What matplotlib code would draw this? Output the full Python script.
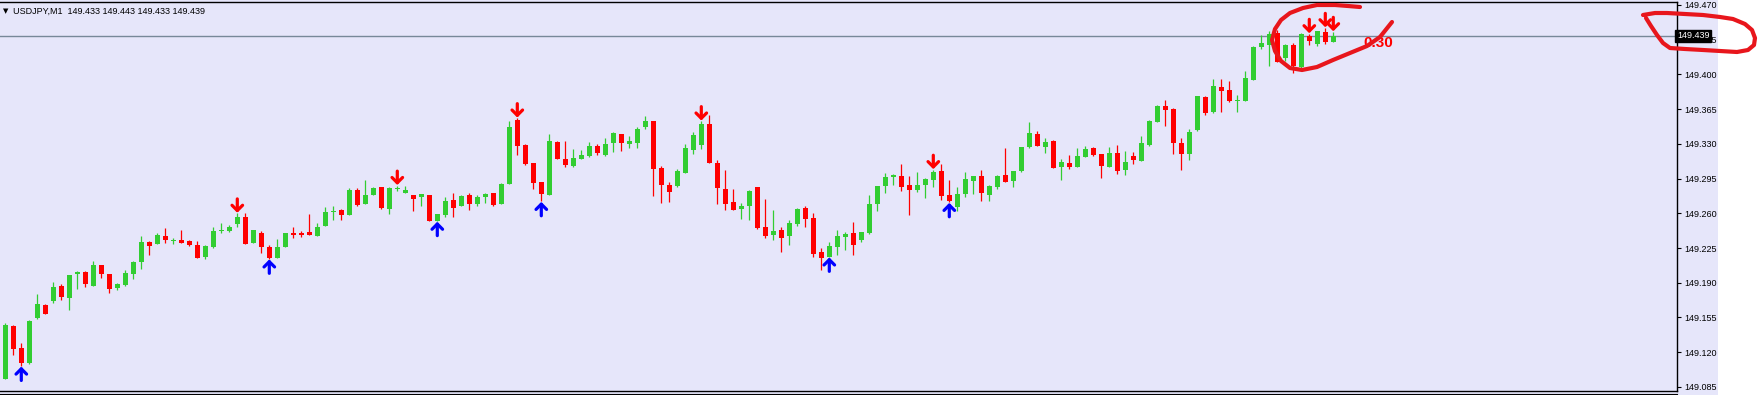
import numpy as np
import matplotlib.pyplot as plt
from matplotlib.patches import Rectangle

W, H = 1760, 395
BG = '#E6E6FA'
BULL = '#32CD32'
BEAR = '#FF0000'
INK = '#E8161C'

header = 'USDJPY,M1  149.433 149.443 149.433 149.439'
last_price = 149.439
note = '0.30'

opens = [
    149.093, 149.146, 149.124, 149.109, 149.154, 149.168, 149.172, 149.187, 149.175, 149.199,
    149.201, 149.187, 149.208, 149.199, 149.185, 149.188, 149.199, 149.211, 149.231, 149.229,
    149.237, 149.232, 149.233, 149.232, 149.228, 149.216, 149.226, 149.242, 149.242, 149.249,
    149.256, 149.230, 149.240, 149.226, 149.215, 149.226, 149.240, 149.240, 149.241, 149.237,
    149.247, 149.261, 149.263, 149.258, 149.283, 149.269, 149.278, 149.287, 149.264, 149.284,
    149.280, 149.278, 149.276, 149.278, 149.252, 149.258, 149.273, 149.267, 149.278, 149.269,
    149.276, 149.280, 149.269, 149.290, 149.354, 149.329, 149.311, 149.292, 149.278, 149.332,
    149.315, 149.308, 149.315, 149.318, 149.328, 149.319, 149.331, 149.340, 149.330, 149.331,
    149.347, 149.353, 149.306, 149.289, 149.288, 149.301, 149.324, 149.329, 149.350, 149.311,
    149.284, 149.271, 149.264, 149.267, 149.287, 149.246, 149.238, 149.243, 149.237, 149.249,
    149.265, 149.255, 149.221, 149.216, 149.226, 149.236, 149.240, 149.233, 149.240, 149.269,
    149.288, 149.297, 149.298, 149.289, 149.283, 149.289, 149.294, 149.303, 149.278, 149.266,
    149.279, 149.293, 149.298, 149.278, 149.287, 149.299, 149.293, 149.303, 149.327, 149.340,
    149.327, 149.333, 149.307, 149.311, 149.307, 149.317, 149.326, 149.320, 149.307, 149.321,
    149.304, 149.318, 149.313, 149.329, 149.352, 149.368, 149.365, 149.331, 149.320, 149.344,
    149.377, 149.362, 149.387, 149.384, 149.373, 149.373, 149.394, 149.428, 149.430, 149.442,
    149.417, 149.430, 149.407, 149.439, 149.431, 149.443, 149.433,
]
highs = [
    149.149, 149.147, 149.129, 149.152, 149.179, 149.169, 149.191, 149.189, 149.198, 149.202,
    149.202, 149.212, 149.208, 149.199, 149.190, 149.203, 149.212, 149.237, 149.232, 149.240,
    149.245, 149.235, 149.243, 149.233, 149.232, 149.228, 149.246, 149.250, 149.248, 149.260,
    149.260, 149.243, 149.242, 149.228, 149.234, 149.240, 149.246, 149.242, 149.259, 149.250,
    149.266, 149.267, 149.264, 149.285, 149.285, 149.294, 149.287, 149.287, 149.287, 149.288,
    149.288, 149.278, 149.279, 149.278, 149.259, 149.276, 149.280, 149.278, 149.280, 149.278,
    149.280, 149.280, 149.291, 149.353, 149.356, 149.330, 149.311, 149.292, 149.340, 149.333,
    149.333, 149.325, 149.324, 149.332, 149.330, 149.336, 149.342, 149.340, 149.338, 149.347,
    149.358, 149.353, 149.308, 149.292, 149.305, 149.330, 149.342, 149.353, 149.359, 149.314,
    149.304, 149.284, 149.270, 149.283, 149.287, 149.274, 149.263, 149.246, 149.253, 149.265,
    149.267, 149.260, 149.225, 149.231, 149.243, 149.241, 149.251, 149.241, 149.278, 149.288,
    149.301, 149.300, 149.310, 149.298, 149.302, 149.296, 149.304, 149.310, 149.294, 149.287,
    149.302, 149.298, 149.304, 149.289, 149.299, 149.326, 149.303, 149.327, 149.352, 149.343,
    149.336, 149.334, 149.315, 149.319, 149.326, 149.328, 149.327, 149.320, 149.327, 149.329,
    149.323, 149.322, 149.338, 149.354, 149.369, 149.374, 149.366, 149.336, 149.345, 149.378,
    149.378, 149.395, 149.395, 149.393, 149.379, 149.403, 149.429, 149.440, 149.444, 149.445,
    149.431, 149.432, 149.442, 149.441, 149.444, 149.447, 149.443,
]
lows = [
    149.093, 149.117, 149.106, 149.108, 149.153, 149.158, 149.170, 149.173, 149.163, 149.184,
    149.186, 149.187, 149.195, 149.180, 149.183, 149.187, 149.194, 149.204, 149.218, 149.229,
    149.230, 149.229, 149.230, 149.227, 149.215, 149.214, 149.225, 149.240, 149.241, 149.246,
    149.229, 149.230, 149.220, 149.214, 149.215, 149.226, 149.235, 149.236, 149.238, 149.237,
    149.247, 149.253, 149.253, 149.258, 149.267, 149.269, 149.278, 149.264, 149.259, 149.282,
    149.280, 149.262, 149.267, 149.252, 149.252, 149.256, 149.256, 149.267, 149.263, 149.267,
    149.270, 149.267, 149.269, 149.290, 149.319, 149.309, 149.284, 149.272, 149.278, 149.315,
    149.307, 149.307, 149.315, 149.317, 149.319, 149.318, 149.322, 149.323, 149.326, 149.326,
    149.345, 149.277, 149.270, 149.271, 149.287, 149.301, 149.320, 149.325, 149.311, 149.269,
    149.263, 149.263, 149.254, 149.253, 149.244, 149.235, 149.233, 149.221, 149.228, 149.247,
    149.246, 149.216, 149.203, 149.216, 149.218, 149.223, 149.218, 149.231, 149.239, 149.262,
    149.280, 149.289, 149.282, 149.258, 149.281, 149.275, 149.287, 149.273, 149.271, 149.262,
    149.276, 149.279, 149.272, 149.272, 149.284, 149.292, 149.287, 149.302, 149.326, 149.328,
    149.321, 149.306, 149.294, 149.305, 149.307, 149.317, 149.318, 149.296, 149.307, 149.300,
    149.299, 149.310, 149.313, 149.328, 149.352, 149.348, 149.320, 149.304, 149.314, 149.343,
    149.359, 149.361, 149.362, 149.372, 149.362, 149.373, 149.394, 149.426, 149.408, 149.413,
    149.414, 149.401, 149.405, 149.430, 149.429, 149.431, 149.433,
]
closes = [
    149.147, 149.123, 149.109, 149.151, 149.169, 149.158, 149.186, 149.176, 149.198, 149.201,
    149.189, 149.208, 149.199, 149.184, 149.189, 149.200, 149.211, 149.231, 149.227, 149.238,
    149.233, 149.233, 149.230, 149.228, 149.215, 149.227, 149.242, 149.243, 149.246, 149.256,
    149.229, 149.243, 149.226, 149.215, 149.226, 149.240, 149.238, 149.238, 149.238, 149.246,
    149.261, 149.262, 149.258, 149.283, 149.268, 149.278, 149.285, 149.265, 149.285, 149.285,
    149.283, 149.274, 149.279, 149.252, 149.259, 149.272, 149.265, 149.277, 149.269, 149.276,
    149.279, 149.268, 149.290, 149.347, 149.328, 149.310, 149.291, 149.279, 149.333, 149.315,
    149.309, 149.316, 149.319, 149.328, 149.321, 149.330, 149.341, 149.331, 149.333, 149.345,
    149.353, 149.305, 149.289, 149.281, 149.303, 149.326, 149.339, 149.350, 149.311, 149.285,
    149.269, 149.263, 149.267, 149.282, 149.245, 149.237, 149.242, 149.235, 149.250, 149.264,
    149.254, 149.219, 149.215, 149.227, 149.237, 149.239, 149.228, 149.241, 149.269, 149.288,
    149.297, 149.299, 149.287, 149.283, 149.289, 149.295, 149.302, 149.277, 149.272, 149.279,
    149.295, 149.298, 149.280, 149.288, 149.298, 149.292, 149.303, 149.327, 149.341, 149.328,
    149.332, 149.306, 149.312, 149.307, 149.318, 149.325, 149.319, 149.308, 149.321, 149.303,
    149.312, 149.314, 149.331, 149.353, 149.368, 149.364, 149.331, 149.320, 149.342, 149.378,
    149.361, 149.388, 149.383, 149.373, 149.374, 149.396, 149.428, 149.432, 149.441, 149.413,
    149.430, 149.408, 149.441, 149.434, 149.444, 149.433, 149.439,
]

buy_signals = [2, 33, 54, 67, 103, 118]
sell_signals = [29, 49, 64, 87, 116, 163, 165, 166]

price_ticks = [149.085 + 0.035 * k for k in range(12)]

o = np.array(opens)
h = np.array(highs)
l = np.array(lows)
c = np.array(closes)
x = np.arange(len(o))
up = c >= o
colors = np.where(up, BULL, BEAR)

fig = plt.figure(figsize=(W / 100, H / 100), dpi=100)
fig.patch.set_facecolor('white')
fig.patches.append(Rectangle((0, 0), 1718 / W, 1, transform=fig.transFigure,
                             facecolor=BG, edgecolor='none', zorder=-5))

ax = fig.add_axes([0, 4 / H, 1677 / W, 389 / H])
ax.set_facecolor(BG)
ax.set_xlim(-5.3 / 8, (1677 - 5.3) / 8)
ax.set_ylim(149.475 - 391 * 0.001008, 149.475 - 2 * 0.001008)

# wicks and bodies
ax.vlines(x, l, h, colors=colors, linewidth=0.9, zorder=2)
body = np.maximum(np.abs(c - o), 0.001)
ax.bar(x, body, bottom=np.minimum(o, c), width=0.62, color=colors,
       linewidth=0, zorder=3)

# current price line
ax.axhline(last_price, color='#778899', linewidth=1, zorder=1)

# signal arrows
for i in buy_signals:
    ax.annotate('', xy=(i, l[i] - 0.0005), xytext=(i, l[i] - 0.0145),
                arrowprops=dict(arrowstyle='->,head_width=0.38,head_length=0.38',
                                color='#0000FF', lw=2.3, shrinkA=0, shrinkB=0),
                zorder=4)
for i in sell_signals:
    ax.annotate('', xy=(i, h[i] + 0.0005), xytext=(i, h[i] + 0.0145),
                arrowprops=dict(arrowstyle='->,head_width=0.38,head_length=0.38',
                                color=BEAR, lw=2.3, shrinkA=0, shrinkB=0),
                zorder=4)

ax.text(169.7, 149.432, note, color=BEAR, fontsize=11, fontweight='bold',
        family='Liberation Sans', ha='left', va='center', zorder=5)

# right price scale
ax.yaxis.tick_right()
ax.set_yticks(price_ticks)
ax.set_yticklabels(['%.3f' % t for t in price_ticks], family='Liberation Sans', fontsize=6.5)
ax.tick_params(axis='y', length=3, width=0.8, pad=2, colors='black')
ax.set_xticks([])
ax.spines['left'].set_visible(False)
for s in ['top', 'right', 'bottom']:
    ax.spines[s].set_color('black')
    ax.spines[s].set_linewidth(1)

ax.text(1.0, last_price, '149.439', transform=ax.get_yaxis_transform(),
        ha='left', va='center', color='white', fontsize=6.5, family='Liberation Sans',
        bbox=dict(facecolor='black', edgecolor='black', pad=1.2), zorder=6, clip_on=False)

# header
fig.text(3 / W, 1 - 11 / H, '▼', family='DejaVu Sans', fontsize=5, va='center', ha='left')
fig.text(13 / W, 1 - 11 / H, header, family='Liberation Sans', fontsize=6.5,
         va='center', ha='left', color='black')

# overlay for the hand-drawn marks
ov = fig.add_axes([0, 0, 1, 1])
ov.set_xlim(0, W)
ov.set_ylim(H, 0)
ov.axis('off')
ov.patch.set_alpha(0)
ov.plot([0, 1677], [393.5, 393.5], color='black', lw=0.8)

loop1_x = [1392, 1388, 1380, 1367, 1350, 1333, 1317, 1302, 1290, 1281, 1275, 1272, 1275, 1281, 1290, 1303, 1317, 1335, 1348, 1360]
loop1_y = [22, 27, 37, 46, 53, 60, 67, 70, 68, 61, 51, 40, 29, 20, 13, 8, 5, 5, 6, 7]
ov.plot(loop1_x, loop1_y, color=INK, lw=3, solid_capstyle='round', solid_joinstyle='round')

loop2_x = [1643, 1655, 1667, 1685, 1703, 1720, 1733, 1745, 1752, 1755, 1754, 1748, 1737, 1720, 1703, 1685, 1670, 1663, 1657, 1651, 1646]
loop2_y = [15, 13, 13, 14, 15, 17, 19, 24, 30, 38, 45, 50, 52, 51, 50, 49, 48, 43, 35, 26, 18]
ov.plot(loop2_x, loop2_y, color=INK, lw=3, solid_capstyle='round', solid_joinstyle='round')

fig.savefig('out.png', dpi=100, facecolor=fig.get_facecolor())
